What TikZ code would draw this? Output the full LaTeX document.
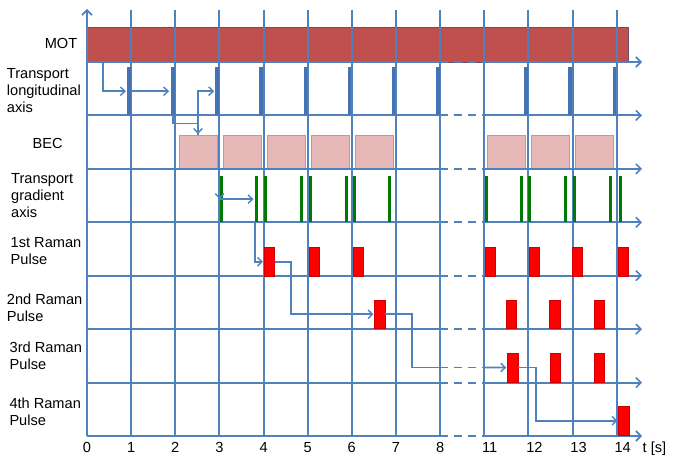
\documentclass[tikz,border=0pt]{standalone}
\usepackage{fontspec}
\setmainfont{Liberation Sans}
\usetikzlibrary{arrows.meta,calc}
\definecolor{gridblue}{RGB}{79,129,189}
\definecolor{barblue}{RGB}{68,114,178}
\definecolor{motred}{RGB}{192,80,77}
\definecolor{motedge}{RGB}{120,72,96}
\definecolor{becpink}{RGB}{230,185,184}
\definecolor{becedge}{RGB}{150,165,195}
\definecolor{gradgreen}{RGB}{0,122,0}
\definecolor{pulsered}{RGB}{255,0,0}
\begin{document}
\begin{tikzpicture}[x=1pt,y=-1pt,
  gridline/.style={gridblue,line width=2pt},
  axisline/.style={gridline,-{Straight Barb[length=5pt,width=10pt,line width=1.6pt]}},
  gapline/.style={gridblue,line width=2pt,dash pattern=on 8pt off 6pt},
  conn/.style={gridblue,line width=1.6pt,shorten >=1pt,-{Straight Barb[length=4.5pt,width=8.5pt,line width=1.4pt]}},
  plain/.style={gridblue,line width=1.6pt},
  lbl/.style={font=\fontsize{14.6}{17}\selectfont,inner sep=0pt,align=left},
  tick/.style={font=\fontsize{14.6}{17}\selectfont,inner sep=0pt},
  lbar/.style={fill=barblue,draw=none,inner sep=0pt,outer sep=0pt,minimum width=3.6pt,minimum height=48.4pt},
  gbar/.style={fill=gradgreen,draw=none,inner sep=0pt,outer sep=0pt,minimum width=3pt,minimum height=46.3pt},
  becbox/.style={fill=becpink,draw=becedge,line width=0.7pt,inner sep=0pt,outer sep=0pt,minimum width=38pt,minimum height=33.5pt},
  pulse/.style={fill=pulsered,draw=red!80!black,line width=0.3pt,inner sep=0pt,outer sep=0pt,minimum width=10.5pt,minimum height=28.5pt},
]
\useasboundingbox (0,0) rectangle (675,460);

% MOT bar
\node[fill=motred,draw=motedge,line width=0.7pt,inner sep=0pt,outer sep=0pt,
      minimum width=541pt,minimum height=35pt,anchor=north west] (mot) at (87,27) {};

% BEC boxes
\foreach \x/\n in {179/1,223/2,267/3,311.5/4,355/5,487.5/6,531/7,575/8}
  \node[becbox,anchor=north west] (bec\n) at (\x,135) {};

% vertical grid lines
\foreach \x in {131.1,175.3,219.4,263.6,307.7,351.8,396,440.1,484.3,528.4,572.5,616.7}
  \draw[gridline] (\x,10) -- (\x,436);
\draw[axisline] (87,436) -- (87,9);

% horizontal rows
\foreach \y in {62,115.4,168.9,222.3,275.7,329.2,382.6,436} {
  \draw[gridline] (87,\y) -- (440.1,\y);
  \draw[gapline] (440.1,\y) -- (484.3,\y);
  \draw[axisline] (484.3,\y) -- (642,\y);
}

% longitudinal transport bars
\foreach \x/\n in {131.1/1,175.3/2,219.4/3,263.6/4,307.7/5,351.8/6,396/7,440.1/8,528.4/12,572.5/13,616.7/14}
  \node[lbar,anchor=north east] (b\n) at (\x-0.6,67) {};

% gradient transport bars
\foreach \x/\n in {221.5/1,256/2,265/3,301.7/4,310.3/5,346/6,354/7,389.3/8,486/9,521.7/10,529.3/11,565/12,574/13,610.7/14,620/15}
  \node[gbar,anchor=north] (g\n) at (\x,176) {};

% 1st Raman pulses
\foreach \x/\n in {264/1,309/2,353/3,485/4,529/5,572/6,618/7}
  \node[pulse,anchor=north west] (p\n) at (\x,247.5) {};
% 2nd Raman pulses
\foreach \x/\n in {374.5/1,506/2,549.5/3,594/4}
  \node[pulse,anchor=north west] (q\n) at (\x,300) {};
% 3rd Raman pulses
\foreach \x/\n in {507.3/1,550/2,594/3}
  \node[pulse,anchor=north west] (r\n) at (\x,353.3) {};
% 4th Raman pulse
\node[pulse,anchor=north west] (s1) at (618.5,406.5) {};

% connectors
\coordinate (m1) at (102.7,62);
\draw[conn] (m1) |- (b1.west);
\draw[conn,shorten >=2pt] (b1.east) -- (b2.west);
\draw[conn] (b2.south) -- ++(0,8) -| (bec1.north);
\draw[conn] (bec1.north) |- (b3.west);
\coordinate (gc) at ($(b3.south east)+(0.8,0)$);
\draw[conn,shorten >=0pt] (gc) -- (gc |- g2.west);
\draw[conn] (gc |- g2.west) -- (g2.west);
\draw[conn] ($(g2.south)+(-1,0)$) |- (p1.west);
\draw[conn] (p1.east) -- ++(16.7,0) |- (q1.west);
\coordinate (d1) at (440.1,367.5);
\coordinate (d2) at (484.3,367.5);
\draw[plain] (q1.east) -- ++(26.7,0) |- (d1);
\draw[gapline,line width=1.6pt] (d1) -- (d2);
\draw[conn] (d2) -- (r1.west);
\draw[conn] (r1.east) -- ++(18,0) |- (s1.west);

% row labels
\node[lbl] (lmot) at (61,43) {MOT};
\node[lbl,anchor=north west] (llong) at (6.7,68.3) {Transport\\longitudinal\\axis};
\node[lbl] (lbec) at (47.7,143.8) {BEC};
\node[lbl,anchor=north west] (lgrad) at (11,173.3) {Transport\\gradient\\axis};
\node[lbl,anchor=north west] (lr1) at (10.5,237.3) {1st Raman\\Pulse};
\node[lbl,anchor=north west] (lr2) at (6.7,293.3) {2nd Raman\\Pulse};
\node[lbl,anchor=north west] (lr3) at (9.5,341.7) {3rd Raman\\Pulse};
\node[lbl,anchor=north west] (lr4) at (9.3,397.3) {4th Raman\\Pulse};

% time labels
\foreach \x/\t in {87/0,131.1/1,175.3/2,219.4/3,263.6/4,307.7/5,351.8/6,396/7,440.1/8}
  \node[tick,anchor=base] (t\t) at (\x,452.7) {\t};
\foreach \x/\t in {484.3/11,528.4/12,572.5/13,616.7/14}
  \node[tick,anchor=base west] (t\t) at (\x-2.3,452.7) {\t};
\node[tick,anchor=base west] (tunit) at (642.5,452.7) {t [s]};
\end{tikzpicture}
\end{document}
